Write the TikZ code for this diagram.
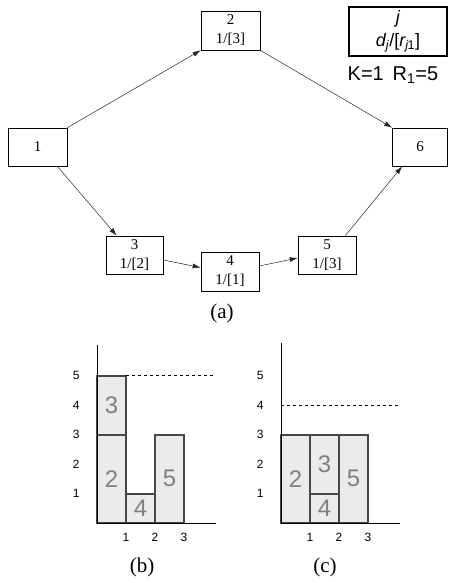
\documentclass[tikz,border=0pt]{standalone}
\usepackage{fontspec}
\setmainfont{Liberation Serif}
\setsansfont{Liberation Sans}
\usetikzlibrary{arrows.meta}
\tikzset{
  task/.style={draw, line width=0.6pt, inner sep=0pt, align=center, font=\fontsize{15}{19}\selectfont},
  link/.style={line width=0.5pt, draw=black!85, -{Latex[length=8pt,width=5pt]}},
  blk/.style={draw=black!72, line width=2pt, fill=black!8},
  blklabel/.style={text=black!50, font=\sffamily\fontsize{24}{24}\selectfont},
  ticklab/.style={font=\sffamily\fontsize{12}{12}\selectfont},
  axis/.style={line width=1pt},
  captext/.style={font=\fontsize{21}{21}\selectfont}
}
\begin{document}
\begin{tikzpicture}[x=1pt,y=-1pt]
\useasboundingbox (0,0) rectangle (448,583);
% network
\node[task, minimum width=59pt, minimum height=38pt] (n1) at (37.5,147) {1};
\node[task, minimum width=59pt, minimum height=39pt] (n2) at (230.5,30.5) {2\\1/[3]};
\node[task, minimum width=55pt, minimum height=38pt] (n6) at (420,147) {6};
\node[task, minimum width=57pt, minimum height=38pt] (n3) at (134.5,255) {3\\1/[2]};
\node[task, minimum width=58pt, minimum height=39pt] (n4) at (230,271.5) {4\\1/[1]};
\node[task, minimum width=58pt, minimum height=38pt] (n5) at (327,255) {5\\1/[3]};
\draw[link] (n1.north east) -- (n2.south west);
\draw[link] (n2.south east) -- (n6.north west);
\draw[link] ([xshift=-10pt]n1.south east) -- ([xshift=11pt]n3.north west);
\draw[link] ([yshift=-5pt]n3.east) -- ([yshift=4pt]n4.west);
\draw[link] ([yshift=5.5pt]n4.east) -- ([yshift=-3pt]n5.west);
\draw[link] ([xshift=-11pt]n5.north east) -- ([xshift=10pt]n6.south west);
% legend
\node[draw, line width=1.2pt, minimum width=98pt, minimum height=49pt, inner sep=0pt, align=center,
      font=\sffamily\fontsize{18}{23}\selectfont] (leg) at (398,31.5)
      {\textit{j}\\\textit{d\textsubscript{j}}/[\textit{r\textsubscript{j}}\kern-1pt\textsubscript{1}]};
\node[font=\sffamily\fontsize{20}{20}\selectfont] (kr) at (393,75) {K=1\, R\textsubscript{1}=5};
\node[captext] (capa) at (222,313) {(a)};
% chart (b)
\begin{scope}[shift={(97,523)}, x=29pt, y=29.5pt]
  \draw[blk] (0,0) rectangle (1,3);
  \draw[blk] (0,3) rectangle (1,5);
  \draw[blk] (1,0) rectangle (2,1);
  \draw[blk] (2,0) rectangle (3,3);
  \node[blklabel] (b2) at (0.5,1.5) {2};
  \node[blklabel] (b3) at (0.5,4) {3};
  \node[blklabel] (b4) at (1.5,0.5) {4};
  \node[blklabel] (b5) at (2.5,1.5) {5};
  \draw[axis] (0,6.03) -- (0,0) -- (4.1,0);
  \draw[dashed, line width=0.6pt] (1,5) -- (4.1,5);
  \foreach \i in {1,...,5} \node[ticklab] (by\i) at (-0.72,\i) {\i};
  \foreach \i in {1,2,3} \node[ticklab] (bx\i) at (\i,-0.5) {\i};
\end{scope}
\node[captext] (capb) at (142,567) {(b)};
% chart (c)
\begin{scope}[shift={(281,523)}, x=29pt, y=29.5pt]
  \draw[blk] (0,0) rectangle (1,3);
  \draw[blk] (1,1) rectangle (2,3);
  \draw[blk] (1,0) rectangle (2,1);
  \draw[blk] (2,0) rectangle (3,3);
  \node[blklabel] (c2) at (0.5,1.5) {2};
  \node[blklabel] (c3) at (1.5,2) {3};
  \node[blklabel] (c4) at (1.5,0.5) {4};
  \node[blklabel] (c5) at (2.5,1.5) {5};
  \draw[axis] (0,6.1) -- (0,0) -- (4.1,0);
  \draw[dashed, line width=0.6pt] (0,4) -- (4.1,4);
  \foreach \i in {1,...,5} \node[ticklab] (cy\i) at (-0.72,\i) {\i};
  \foreach \i in {1,2,3} \node[ticklab] (cx\i) at (\i,-0.5) {\i};
\end{scope}
\node[captext] (capc) at (325,567) {(c)};
\end{tikzpicture}
\end{document}
